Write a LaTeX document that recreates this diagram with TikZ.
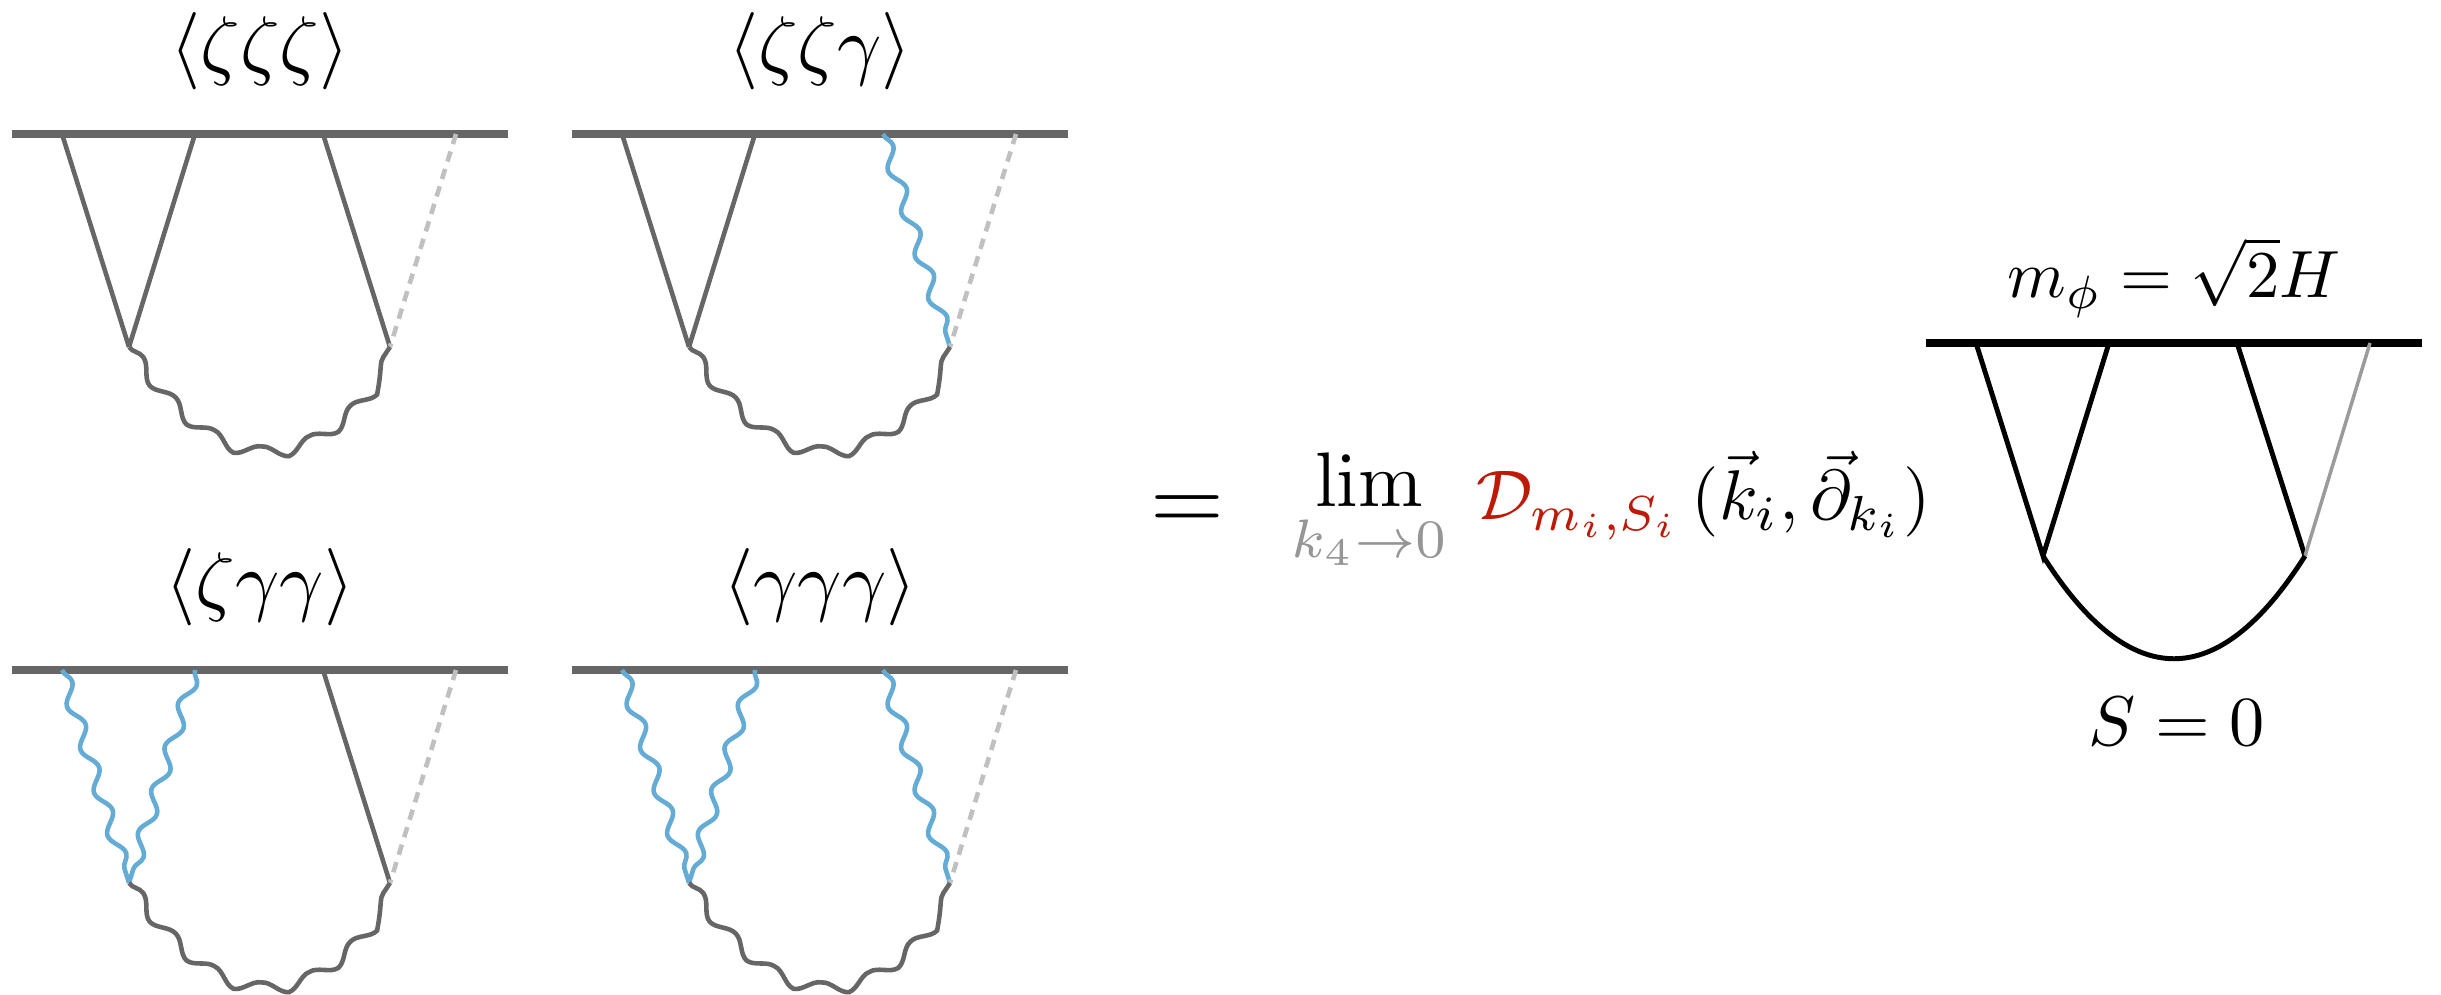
\documentclass[tikz,border=0pt]{standalone}
\usepackage{graphicx}
\usetikzlibrary{decorations.pathmorphing}
\definecolor{linegray}{RGB}{102,102,102}
\definecolor{softgray}{RGB}{192,192,192}
\definecolor{photon}{RGB}{100,172,214}
\definecolor{limgray}{RGB}{150,150,150}
\definecolor{opred}{RGB}{190,25,5}
\definecolor{legray}{RGB}{155,155,155}
\newcommand{\mlab}[2]{\scalebox{#1}{$#2$}}
\tikzset{
    bdry/.style={line width=2pt, draw=linegray},
    leg/.style={line width=1.3pt, draw=linegray},
    soft/.style={line width=1.3pt, draw=softgray, dash pattern=on 3pt off 2.2pt},
    grav/.style={line width=1.3pt, draw=photon, decorate,
        decoration={snake, amplitude=1.8pt, segment length=12.8pt}},
    loopline/.style={line width=1.3pt, draw=linegray, decorate,
        decoration={snake, amplitude=1.7pt, segment length=15pt}},
    lbl/.style={inner sep=0pt, anchor=base},
}

\begin{document}
\begin{tikzpicture}[x=0.01cm, y=-0.01cm]
    \useasboundingbox (0,0) rectangle (2441,995);
    \foreach \n/\cx/\cy/\lab/\ga/\gb/\gc in {1/260/134/{\zeta\zeta\zeta}/0/0/0,
            2/820/134/{\zeta\zeta\gamma}/0/0/1,
            3/260/670/{\zeta\gamma\gamma}/1/1/0,
            4/820/670/{\gamma\gamma\gamma}/1/1/1} {
        \coordinate (L\n) at (\cx-248,\cy);
        \coordinate (R\n) at (\cx+248,\cy);
        \coordinate (t\n-1) at (\cx-198,\cy);
        \coordinate (t\n-2) at (\cx-65,\cy);
        \coordinate (t\n-3) at (\cx+63,\cy);
        \coordinate (t\n-4) at (\cx+196,\cy);
        \coordinate (b\n-1) at (\cx-131,\cy+213);
        \coordinate (b\n-2) at (\cx+130,\cy+213);
        \node[lbl] (lab\n) at (\cx,\cy-63) {\mlab{2.2}{\langle\lab\rangle}};
        \draw[bdry] (L\n) -- (R\n);
        \ifnum\ga=1 \draw[grav] (t\n-1) -- (b\n-1); \else \draw[leg] (t\n-1) -- (b\n-1); \fi
        \ifnum\gb=1 \draw[grav] (t\n-2) -- (b\n-1); \else \draw[leg] (t\n-2) -- (b\n-1); \fi
        \ifnum\gc=1 \draw[grav] (t\n-3) -- (b\n-2); \else \draw[leg] (t\n-3) -- (b\n-2); \fi
        \draw[soft] (t\n-4) -- (b\n-2);
        \draw[loopline] (b\n-1) .. controls +(87,126) and +(-87,126) .. (b\n-2);
    }

    \node[lbl] (eq) at (1187,531) {\mlab{2.7}{=}};
    \node[lbl] (lim) at (1369,507) {\mlab{2.2}{\displaystyle\lim_{\color{limgray}k_4\to 0}}};
    \node[lbl, anchor=base west] (op) at (1476,520)
        {\mlab{2.0}{{\color{opred}\mathcal{D}_{m_i,S_i}}\,(\vec{k}_i,\vec{\partial}_{k_i})}};

    \coordinate (L5) at (1926,343);
    \coordinate (R5) at (2422,343);
    \coordinate (t5-1) at (1976,343);
    \coordinate (t5-2) at (2109,343);
    \coordinate (t5-3) at (2237,343);
    \coordinate (t5-4) at (2370,343);
    \coordinate (b5-1) at (2043,556);
    \coordinate (b5-2) at (2305,556);
    \node[lbl] (mass) at (2174,298) {\mlab{1.9}{m_\phi=\sqrt{2}H}};
    \node[lbl] (spin) at (2177,746) {\mlab{2.0}{S=0}};
    \draw[line width=2pt] (L5) -- (R5);
    \draw[line width=1.4pt] (t5-1) -- (b5-1) -- (t5-2);
    \draw[line width=1.4pt] (t5-3) -- (b5-2);
    \draw[line width=1pt, legray] (t5-4) -- (b5-2);
    \draw[line width=1.4pt] (b5-1) .. controls +(87,137) and +(-87,137) .. (b5-2);
\end{tikzpicture}
\end{document}
